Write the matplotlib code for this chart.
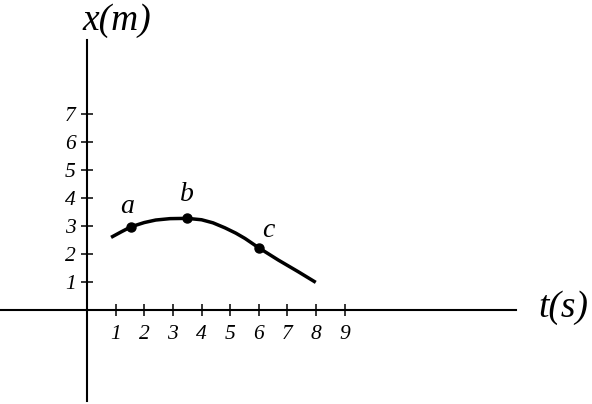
import matplotlib
matplotlib.use("Agg")
import matplotlib.pyplot as plt

# Data
curve_t = [0.84, 1.2, 1.54, 2.0, 2.4, 2.9, 3.5, 4.0, 4.4, 4.82, 5.2, 5.52,
           5.98, 6.68, 7.38, 7.99]
curve_x = [2.6, 2.8, 2.98, 3.13, 3.22, 3.27, 3.28, 3.23, 3.12, 2.94, 2.75,
           2.56, 2.24, 1.79, 1.37, 0.99]
point_names = ["a", "b", "c"]
point_t = [1.54, 3.5, 6.0]
point_x = [2.98, 3.28, 2.23]
xticks = [1, 2, 3, 4, 5, 6, 7, 8, 9]
yticks = [1, 2, 3, 4, 5, 6, 7]

serif = ["Liberation Serif", "DejaVu Serif"]

fig = plt.figure(figsize=(5.92, 4.04), dpi=100)
ax = fig.add_axes([0, 0, 1, 1])
ax.set_xlim(-3.04, 17.64)
ax.set_ylim(-3.36, 11.09)

for s in ["top", "right"]:
    ax.spines[s].set_visible(False)
ax.spines["left"].set_position(("data", 0))
ax.spines["bottom"].set_position(("data", 0))
ax.spines["left"].set_bounds(-3.25, 9.66)
ax.spines["bottom"].set_bounds(-3.04, 15.0)
for s in ["left", "bottom"]:
    ax.spines[s].set_linewidth(1.5)
ax.patch.set_visible(False)

ax.set_xticks(xticks)
ax.set_yticks(yticks)
ax.set_xticklabels([str(v) for v in xticks])
ax.set_yticklabels([str(v) for v in yticks])
ax.tick_params(direction="inout", length=8.6, width=1.1)
ax.tick_params(axis="x", pad=6.5)
ax.tick_params(axis="y", pad=4.0)
for lab in ax.get_xticklabels() + ax.get_yticklabels():
    lab.set_fontfamily(serif)
    lab.set_fontstyle("italic")
    lab.set_fontsize(15.5)

ax.plot(curve_t, curve_x, color="black", lw=2.5, solid_capstyle="butt",
        solid_joinstyle="round")
ax.plot(point_t, point_x, "o", color="black", ms=6.5)

label_pos = [(1.39, 3.69), (3.48, 4.13), (6.33, 2.86)]
for name, (lt, lx) in zip(point_names, label_pos):
    ax.text(lt, lx, name, family=serif, style="italic", fontsize=20,
            ha="center", va="center")

ax.text(-0.15, 10.35, "x(m)", family=serif, style="italic", fontsize=27,
        ha="left", va="center")
ax.text(16.63, 0.1, "t(s)", family=serif, style="italic", fontsize=27,
        ha="center", va="center")

fig.savefig("out.png", dpi=100)
